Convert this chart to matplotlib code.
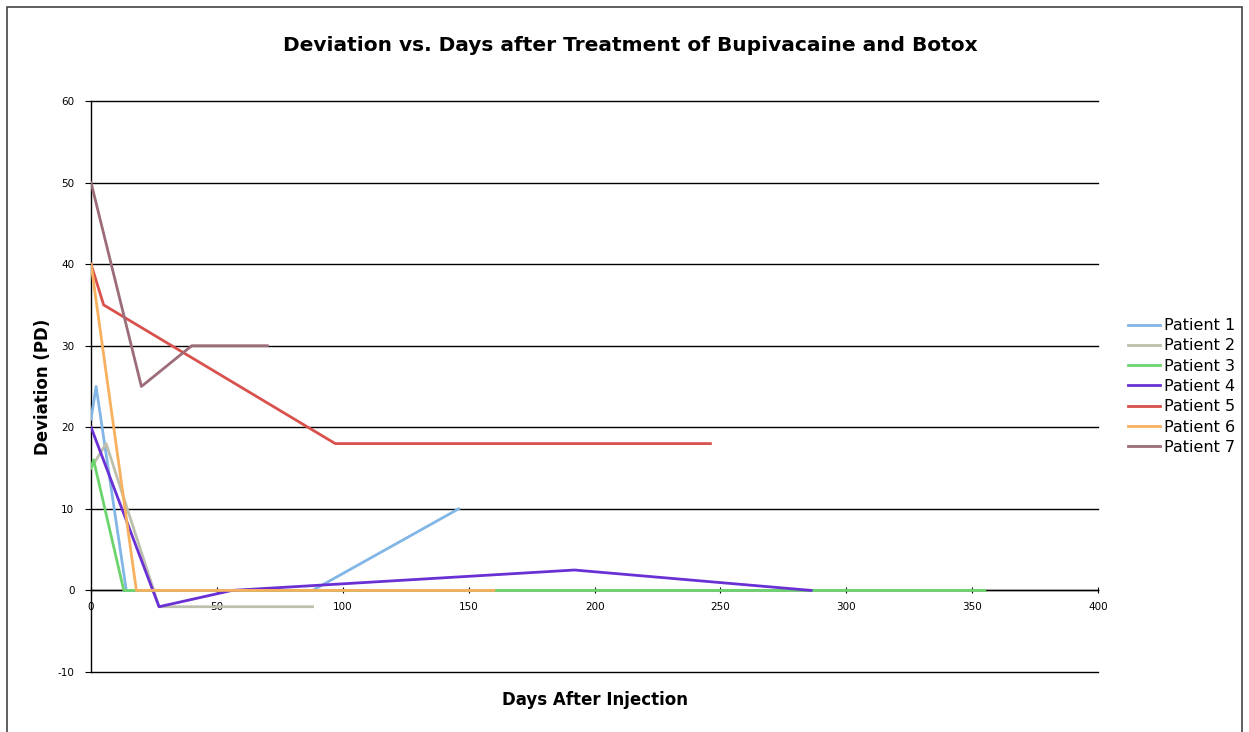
import matplotlib.pyplot as plt
from matplotlib.patches import Rectangle

plt.rcParams['axes.unicode_minus'] = False

# days after injection / deviation (PD), per patient
p1_days = [0, 2, 14, 88, 146]
p1_dev = [21, 25, 0, 0, 10]
p2_days = [0, 6, 27, 88]
p2_dev = [15, 18, -2, -2]
p3_days = [0, 1, 13, 355]
p3_dev = [15, 16, 0, 0]
p4_days = [0, 27, 56, 192, 286]
p4_dev = [20, -2, 0, 2.5, 0]
p5_days = [0, 5, 97, 246]
p5_dev = [40, 35, 18, 18]
p6_days = [0, 18, 160]
p6_dev = [40, 0, 0]
p7_days = [0, 20, 40, 70]
p7_dev = [50, 25, 30, 30]

labels = ['Patient 1', 'Patient 2', 'Patient 3', 'Patient 4',
          'Patient 5', 'Patient 6', 'Patient 7']
colors = ['#82b6e6', '#bcc0ac', '#6cd46c', '#6a30d4',
          '#d9514c', '#f6b05e', '#9c6c78']
series = [(p1_days, p1_dev), (p2_days, p2_dev), (p3_days, p3_dev),
          (p4_days, p4_dev), (p5_days, p5_dev), (p6_days, p6_dev),
          (p7_days, p7_dev)]

fig = plt.figure(figsize=(12.49, 7.32), dpi=100)
ax = fig.add_axes([0.0729, 0.082, 0.8063, 0.780])

for y in range(-10, 61, 10):
    ax.axhline(y, color='black', lw=1.0, zorder=1, clip_on=False)

for (d, v), lab, c in zip(series, labels, colors):
    ax.plot(d, v, color=c, lw=2.0, label=lab, zorder=3)

ax.set_xlim(0, 400)
ax.set_ylim(-10, 60)
ax.set_xticks(range(0, 401, 50))
ax.set_yticks(range(-10, 61, 10))
ax.spines['top'].set_visible(False)
ax.spines['right'].set_visible(False)
ax.spines['bottom'].set_position(('data', 0))
ax.spines['left'].set_linewidth(1.0)
ax.spines['bottom'].set_linewidth(1.0)
ax.tick_params(axis='x', direction='inout', length=5, labelsize=7.5, pad=6)
ax.tick_params(axis='y', direction='out', length=4, labelsize=7.5, pad=8)

fig.suptitle('Deviation vs. Days after Treatment of Bupivacaine and Botox',
             x=0.505, y=0.938, va='center', fontsize=14.5, fontweight='bold')
ax.set_ylabel('Deviation (PD)', fontsize=12, fontweight='bold', labelpad=4)
fig.text(0.476, 0.044, 'Days After Injection', ha='center', va='center',
         fontsize=12, fontweight='bold')

ax.legend(loc='center left', bbox_to_anchor=(1.015, 0.5), frameon=False,
          fontsize=11.5, handlelength=2.0, labelspacing=0.33,
          handletextpad=0.3)

fig.patches.append(Rectangle((0.006, -0.01), 0.988, 1.0, transform=fig.transFigure,
                             fill=False, edgecolor='#444444', lw=1.2))

fig.savefig('out.png', dpi=100)
